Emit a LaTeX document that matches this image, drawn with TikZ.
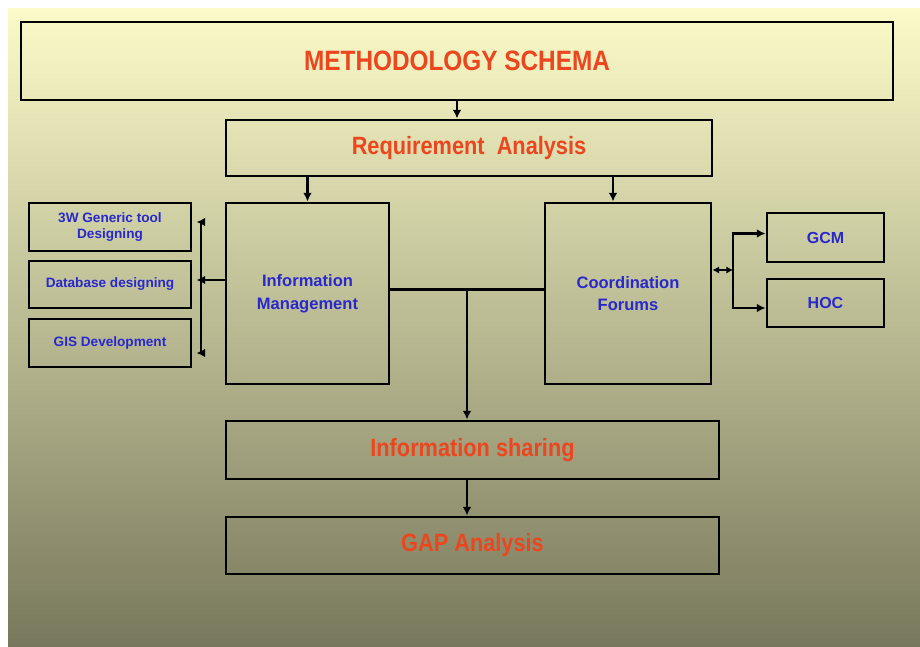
\documentclass[tikz,border=0pt]{standalone}
\usepackage{fontspec}
\setmainfont{Liberation Sans}
\newfontfamily\headfont{Liberation Sans}[FakeStretch=0.87]
\usepackage{tikz}
\usetikzlibrary{arrows.meta,calc}
\definecolor{headred}{RGB}{236,70,30}
\definecolor{itemblue}{RGB}{40,40,205}
\definecolor{bgtop}{RGB}{251,251,201}
\definecolor{bgmid}{RGB}{218,218,176}
\definecolor{bgbot}{RGB}{120,120,92}

\begin{document}
\begin{tikzpicture}[x=0.75pt, y=-0.75pt,
        box/.style={draw, line width=2.2pt, inner sep=0pt},
        head/.style={box, text=headred, font=\headfont\bfseries\fontsize{18.75}{20}\selectfont},
        item/.style={box, text=itemblue, align=center, font=\bfseries\fontsize{12.4}{17}\selectfont},
        small/.style={box, text=itemblue, align=center, font=\bfseries\fontsize{10.2}{12.5}\selectfont},
        edge/.style={draw, line width=2pt},
        arr/.style={edge, -{Latex[length=6.5pt,width=6.5pt]}}
    ]
        \useasboundingbox (0,0) rectangle (920,646);
        \fill[white] (0,0) rectangle (920,646);
        \shade[top color=bgtop, middle color=bgmid, bottom color=bgbot] (8,8) rectangle (920,646);

        % Main column
        \node[head, minimum width=654pt, minimum height=58.5pt, font=\headfont\bfseries\fontsize{21}{22}\selectfont] (title) at (457,61) {METHODOLOGY SCHEMA};
        \node[head, minimum width=364.5pt, minimum height=42pt] (req) at (469,148) {Requirement\ \ Analysis};
        \node[item, minimum width=122.25pt, minimum height=135.75pt] (im) at (307.5,293.5) {Information\\Management};
        \node[item, minimum width=124.5pt, minimum height=135.75pt] (cf) at (628,293.5) {Coordination\\Forums};
        \node[head, minimum width=369.75pt, minimum height=43.5pt] (is) at (472.5,450) {Information sharing};
        \node[head, minimum width=369.75pt, minimum height=42.75pt] (gap) at (472.5,545.5) {GAP Analysis};

        % Side boxes
        \node[small, minimum width=121.5pt, minimum height=36pt] (gt) at (110,227) {3W Generic tool\\Designing};
        \node[small, minimum width=121.5pt, minimum height=35.25pt] (db) at (110,284.5) {Database designing};
        \node[small, minimum width=121.5pt, minimum height=36pt] (gis) at (110,343) {GIS Development};
        \node[item, minimum width=87.75pt, minimum height=36.75pt, font=\bfseries\fontsize{12}{14}\selectfont] (gcm) at (825.5,237.5) {GCM};
        \node[item, minimum width=87.75pt, minimum height=36pt, font=\bfseries\fontsize{12}{14}\selectfont] (hoc) at (825.5,303) {HOC};

        % Junctions
        \coordinate (mj) at ($(im.east)!0.5!(cf.west)+(0,-4)$);
        \coordinate (lb) at (201,280);
        \coordinate (rb) at (733,270);

        % Edges
        \draw[arr] (title.south) -- (title.south |- req.north);
        \draw[arr] (req.south -| im.north) -- (im.north);
        \draw[arr] ($(req.south -| cf.north)+(-15,0)$) -- ($(cf.north)+(-15,0)$);
        \draw[edge] (im.east |- mj) -- (cf.west |- mj);
        \draw[arr] (mj) -- (mj |- is.north);
        \draw[arr] (mj |- is.south) -- (mj |- gap.north);
        \draw[edge] (im.west |- lb) -- (lb);
        \draw[arr, shorten >=3pt] (lb) |- ($(gt.east)+(0,-5)$);
        \draw[arr, shorten >=3pt] (lb) -- (db.east |- lb);
        \draw[arr, shorten >=3pt] (lb) |- ($(gis.east)+(0,10)$);
        \draw[edge, {Latex[length=5pt,width=5.5pt]}-{Latex[length=5pt,width=5.5pt]}] (cf.east |- rb) -- (rb);
        \draw[arr] (rb) |- ($(gcm.west)+(0,-4)$);
        \draw[arr] (rb) |- ($(hoc.west)+(0,5)$);
    \end{tikzpicture}
\end{document}
